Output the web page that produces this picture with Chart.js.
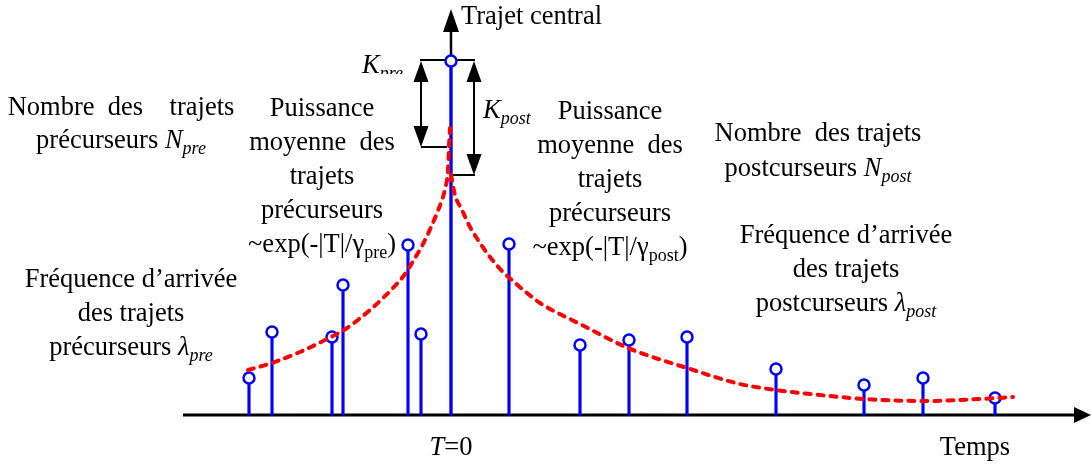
<!DOCTYPE html>
<html>
<head>
<meta charset="utf-8">
<script src="https://cdn.jsdelivr.net/npm/chart.js@4"></script>
<style>
  html, body { margin: 0; padding: 0; background: #fff; }
  canvas { display: block; }
</style>
</head>
<body>
<canvas id="pdp" width="1091" height="466"></canvas>
<script>
/* ===== DATA (time in px from T=0, amplitude above the time axis) ===== */

// multipath components (stems)
const pathTimes = [-202, -179, -119, -108, -43, -30, 0, 58, 129, 178, 236, 325, 413, 472, 544];
const pathGains = [37, 83, 78, 130, 170, 81, 354, 171, 70, 75, 78, 46, 30, 37, 17];

// average power envelope, precursors
const preTimes = [-203, -179, -151, -120, -107, -81, -68, -58, -46, -36, -28, -19, -14, -9, -6, -3, -2, -1];
const preEnvelope = [45, 52, 63, 78, 85, 105, 117, 127, 141, 157, 171, 190, 202, 215, 226, 245, 268, 287];

// average power envelope, postcursors
const postTimes = [0, 4, 11, 19, 29, 39, 52, 62, 76, 89, 129, 177, 236, 289, 325, 369, 413, 473, 529, 562];
const postEnvelope = [240, 220, 205, 188, 172, 158, 143, 134, 122, 112, 91, 67, 47, 31, 25, 20, 16, 14, 16, 18];

// time axis labels
const axisTicks = [0];
const axisNames = ["Temps", "Trajet central"];

const BLUE = "#0000ff";
const RED = "#ff0000";
const SERIF = '"Liberation Serif", "Times New Roman", serif';

function toPoints(xs, ys) {
    return xs.map((x, i) => ({ x: x, y: ys[i] }));
}

/* ===== TEXT HELPERS ===== */

function partFont(kind) {
    if (kind === "i") return "italic 26.5px " + SERIF;
    if (kind === "s") return "18px " + SERIF;
    if (kind === "si") return "italic 18px " + SERIF;
    return "26.5px " + SERIF;
}

function drawRich(ctx, parts, x, y, align) {
    let total = 0;
    parts.forEach(p => {
        ctx.font = partFont(p[1]);
        total += ctx.measureText(p[0]).width;
    });
    let cx = align === "left" ? x : x - total / 2;
    parts.forEach(p => {
        const kind = p[1] || "r";
        ctx.font = partFont(kind);
        const dy = (kind === "s" || kind === "si") ? 6 : 0;
        ctx.fillText(p[0], cx, y + dy);
        cx += ctx.measureText(p[0]).width;
    });
}

function drawBlock(ctx, lines, cx, y0, step) {
    lines.forEach((line, i) => {
        const parts = typeof line === "string" ? [[line, "r"]] : line;
        drawRich(ctx, parts, cx, y0 + i * step, "center");
    });
}

function arrowHead(ctx, x, y, dx, dy, len, half) {
    // tip at (x,y), pointing along (dx,dy)
    ctx.beginPath();
    ctx.moveTo(x, y);
    ctx.lineTo(x - dx * len - dy * half, y - dy * len - dx * half);
    ctx.lineTo(x - dx * len + dy * half, y - dy * len + dx * half);
    ctx.closePath();
    ctx.fill();
}

/* ===== AXES, BRACKETS AND LABELS ===== */

const diagramPlugin = {
    id: "diagram",

    beforeDatasetsDraw(chart) {
        const ctx = chart.ctx;
        const X = v => chart.scales.x.getPixelForValue(v);
        const Y = v => chart.scales.y.getPixelForValue(v);

        ctx.save();
        ctx.strokeStyle = "#000";
        ctx.fillStyle = "#000";

        // time axis
        ctx.lineWidth = 3;
        ctx.beginPath();
        ctx.moveTo(X(-268), Y(0));
        ctx.lineTo(X(625), Y(0));
        ctx.stroke();
        arrowHead(ctx, X(640), Y(0), 1, 0, 17, 8);

        // central path axis
        ctx.lineWidth = 2.5;
        ctx.beginPath();
        ctx.moveTo(X(0), Y(0));
        ctx.lineTo(X(0), Y(385));
        ctx.stroke();
        arrowHead(ctx, X(0), Y(406), 0, -1, 23, 8);

        // K_pre / K_post brackets
        ctx.lineWidth = 2;
        ctx.beginPath();
        ctx.moveTo(X(-31), Y(355));
        ctx.lineTo(X(24), Y(355));
        ctx.moveTo(X(-30), Y(335));
        ctx.lineTo(X(-30), Y(288));
        ctx.moveTo(X(-30), Y(268));
        ctx.lineTo(X(-4), Y(268));
        ctx.moveTo(X(23), Y(335));
        ctx.lineTo(X(23), Y(260));
        ctx.moveTo(X(1), Y(240));
        ctx.lineTo(X(24), Y(240));
        ctx.stroke();
        arrowHead(ctx, X(-30), Y(354), 0, -1, 21, 7.5);
        arrowHead(ctx, X(-30), Y(268), 0, 1, 21, 7.5);
        arrowHead(ctx, X(23), Y(354), 0, -1, 21, 7.5);
        arrowHead(ctx, X(23), Y(240), 0, 1, 21, 7.5);
        ctx.restore();
    },

    afterDraw(chart) {
        const ctx = chart.ctx;
        const X = v => chart.scales.x.getPixelForValue(v);
        const Y = v => chart.scales.y.getPixelForValue(v);

        ctx.save();
        ctx.fillStyle = "#000";
        ctx.textBaseline = "alphabetic";

        // axis names
        drawRich(ctx, [[axisNames[1], "r"]], X(10), 24, "left");
        drawRich(ctx, [[axisNames[0], "r"]], 975, 455, "center");
        axisTicks.forEach(t => {
            drawRich(ctx, [["T", "i"], ["=" + t, "r"]], X(t), 455, "center");
        });

        // K labels (subscript of K_pre is cut by the bracket, as in the figure)
        ctx.save();
        ctx.beginPath();
        ctx.rect(X(-95), 0, 70, Y(341));
        ctx.clip();
        drawRich(ctx, [["K", "i"], ["pre", "si"]], X(-89), 73, "left");
        ctx.restore();
        drawRich(ctx, [["K", "i"], ["post", "si"]], X(32), 118, "left");

        // precursor annotations
        drawBlock(ctx, [
            "Nombre  des    trajets",
            [["précurseurs ", "r"], ["N", "i"], ["pre", "si"]]
        ], 121, 115, 33);

        drawBlock(ctx, [
            "Puissance",
            "moyenne  des",
            "trajets",
            "précurseurs",
            [["~exp(-|T|/γ", "r"], ["pre", "s"], [")", "r"]]
        ], 322, 116, 34);

        drawBlock(ctx, [
            "Fréquence d’arrivée",
            "des trajets",
            [["précurseurs ", "r"], ["λ", "i"], ["pre", "si"]]
        ], 131, 287, 34);

        // postcursor annotations
        drawBlock(ctx, [
            "Puissance",
            "moyenne  des",
            "trajets",
            "précurseurs",
            [["~exp(-|T|/γ", "r"], ["post", "s"], [")", "r"]]
        ], 610, 119, 34);

        drawBlock(ctx, [
            "Nombre  des trajets",
            [["postcurseurs ", "r"], ["N", "i"], ["post", "si"]]
        ], 818, 141, 35);

        drawBlock(ctx, [
            "Fréquence d’arrivée",
            "des trajets",
            [["postcurseurs ", "r"], ["λ", "i"], ["post", "si"]]
        ], 846, 243, 34);

        ctx.restore();
    }
};

/* ===== CHART ===== */

const envelopeStyle = {
    type: "line",
    borderColor: RED,
    borderWidth: 4,
    borderDash: [6, 7],
    borderCapStyle: "round",
    pointRadius: 0,
    cubicInterpolationMode: "monotone",
    fill: false,
    order: 0
};

new Chart(document.getElementById("pdp"), {

    type: "scatter",

    data: {
        datasets: [
            Object.assign({ data: toPoints(preTimes, preEnvelope) }, envelopeStyle),
            Object.assign({ data: toPoints(postTimes, postEnvelope) }, envelopeStyle),
            {
                type: "scatter",
                data: toPoints(pathTimes, pathGains),
                pointRadius: 5.5,
                pointBorderWidth: 2.5,
                pointBorderColor: BLUE,
                pointBackgroundColor: "#fff",
                order: 1
            },
            {
                type: "bar",
                data: toPoints(pathTimes, pathGains),
                backgroundColor: BLUE,
                barThickness: 2.5,
                order: 2
            }
        ]
    },

    options: {
        responsive: false,
        animation: false,
        events: [],
        layout: { padding: 0, autoPadding: false },
        plugins: {
            legend: { display: false },
            tooltip: { enabled: false }
        },
        scales: {
            x: { type: "linear", min: -451, max: 640, offset: false, display: false },
            y: { type: "linear", min: -51, max: 415, display: false }
        }
    },

    plugins: [diagramPlugin]
});
</script>
</body>
</html>
